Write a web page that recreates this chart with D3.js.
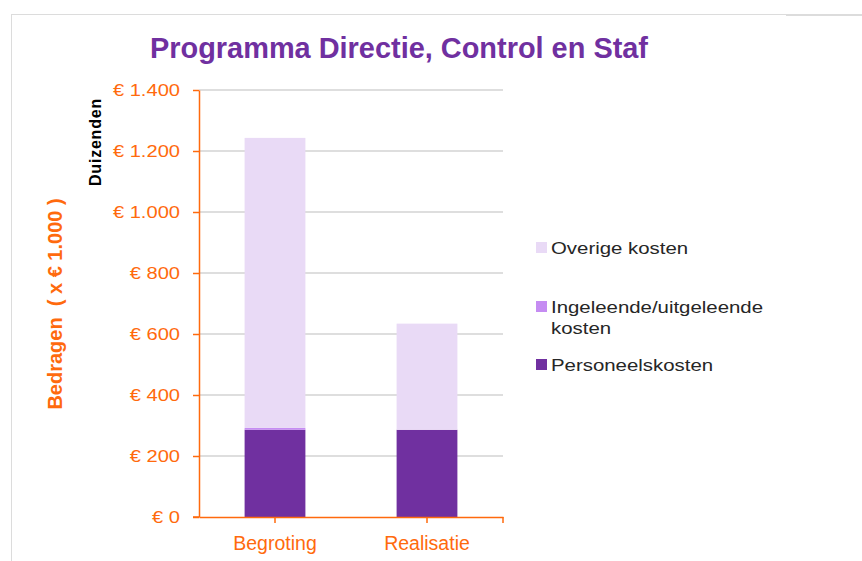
<!DOCTYPE html>
<html>
<head>
<meta charset="utf-8">
<script src="https://cdn.jsdelivr.net/npm/d3@7"></script>
<style>
  body { margin: 0; background: #fff; }
  text { font-family: "Liberation Sans", Arial, sans-serif; }
</style>
</head>
<body>
<svg id="chart" width="862" height="561"></svg>
<script>
const categories = ["Begroting", "Realisatie"];
const personeelskosten = [286, 286];
const ingeleendeKosten = [6, 0];
const overigeKosten = [951, 348];
const seriesNames = ["Personeelskosten", "Ingeleende/uitgeleende kosten", "Overige kosten"];
const yTicks = [0, 200, 400, 600, 800, 1000, 1200, 1400];

const colors = ["#7030A0", "#C58CF2", "#E9DAF6"];
const orange = "#FF6A0D";

const rows = categories.map((c, i) => ({
  cat: c,
  s0: personeelskosten[i],
  s1: ingeleendeKosten[i],
  s2: overigeKosten[i]
}));
const stacked = d3.stack().keys(["s0", "s1", "s2"])(rows);

const svg = d3.select("#chart");

// frame lines
svg.append("line").attr("x1", 11.5).attr("x2", 11.5).attr("y1", 14).attr("y2", 561)
  .attr("stroke", "#dcdcdc").attr("stroke-width", 1);
svg.append("line").attr("x1", 11).attr("x2", 786).attr("y1", 14.5).attr("y2", 14.5)
  .attr("stroke", "#dcdcdc").attr("stroke-width", 1);
svg.append("line").attr("x1", 786).attr("x2", 862).attr("y1", 15).attr("y2", 15)
  .attr("stroke", "#dcdcdc").attr("stroke-width", 2);

const x = d3.scaleBand()
  .domain(categories)
  .range([199, 503])
  .paddingInner(0.6)
  .paddingOuter(0.3);
const y = d3.scaleLinear()
  .domain([0, 1400])
  .range([517, 90]);

const nl = d3.formatLocale({ decimal: ",", thousands: ".", grouping: [3], currency: ["€ ", ""] });
const fmt = v => "€ " + nl.format(",")(v);

// gridlines
svg.append("g")
  .selectAll("line")
  .data(yTicks.filter(d => d > 0))
  .join("line")
    .attr("x1", 199).attr("x2", 503)
    .attr("y1", d => y(d)).attr("y2", d => y(d))
    .attr("stroke", "#d3d3d3").attr("stroke-width", 1.5);

// bars
svg.append("g")
  .selectAll("g")
  .data(stacked)
  .join("g")
    .attr("fill", (d, i) => colors[i])
  .selectAll("rect")
  .data(d => d)
  .join("rect")
    .attr("x", d => x(d.data.cat))
    .attr("width", x.bandwidth())
    .attr("y", d => y(d[1]))
    .attr("height", d => y(d[0]) - y(d[1]));

// y axis (labels are drawn a bit wide, like the original)
const sx = 1.22;
const yAxis = svg.append("g")
  .attr("transform", "translate(199,0)")
  .call(d3.axisLeft(y).tickValues(yTicks).tickFormat(fmt).tickSize(6).tickSizeOuter(0).tickPadding(13));
yAxis.select(".domain").attr("stroke", orange).attr("stroke-width", 1.5);
yAxis.selectAll(".tick line").attr("stroke", orange).attr("stroke-width", 1.5);
yAxis.selectAll(".tick text")
  .attr("fill", orange)
  .attr("x", -19 / sx)
  .attr("transform", `scale(${sx},1)`)
  .style("font-size", "16.5px");

// x axis
const xAxis = svg.append("g")
  .attr("transform", "translate(0,517)")
  .call(d3.axisBottom(x).tickSize(6).tickSizeOuter(0).tickPadding(13));
xAxis.select(".domain").attr("stroke", orange).attr("stroke-width", 1.5);
xAxis.selectAll(".tick line").attr("stroke", orange).attr("stroke-width", 1.5);
xAxis.selectAll(".tick text")
  .attr("fill", orange)
  .style("font-size", "19.5px");
xAxis.append("line")
  .attr("x1", x.range()[1]).attr("x2", x.range()[1])
  .attr("y1", 0).attr("y2", 6)
  .attr("stroke", orange).attr("stroke-width", 1.5);
xAxis.append("line")
  .attr("x1", 193).attr("x2", 199)
  .attr("y1", 0).attr("y2", 0)
  .attr("stroke", orange).attr("stroke-width", 1.5);

// title
svg.append("text")
  .attr("x", 150).attr("y", 58)
  .attr("textLength", 498).attr("lengthAdjust", "spacingAndGlyphs")
  .attr("fill", "#7030A0")
  .style("font-size", "29px").style("font-weight", "bold")
  .text("Programma Directie, Control en Staf");

// y axis title
svg.append("text")
  .attr("transform", "translate(61.5,304) rotate(-90)")
  .attr("text-anchor", "middle")
  .attr("fill", orange)
  .style("white-space", "pre")
  .style("font-size", "20px").style("font-weight", "bold")
  .text("Bedragen  ( x € 1.000 )");

svg.append("text")
  .attr("transform", "translate(101,142) rotate(-90)")
  .attr("text-anchor", "middle")
  .attr("fill", "#000")
  .style("font-size", "16px").style("font-weight", "bold")
  .style("letter-spacing", "0.8px")
  .text("Duizenden");

// legend
const lsx = 1.2;
const legendItems = [
  { name: seriesNames[2], color: colors[2], y: 242, lines: ["Overige kosten"] },
  { name: seriesNames[1], color: colors[1], y: 301, lines: ["Ingeleende/uitgeleende", "kosten"] },
  { name: seriesNames[0], color: colors[0], y: 359, lines: ["Personeelskosten"] }
];
const lg = svg.append("g")
  .selectAll("g")
  .data(legendItems)
  .join("g")
    .attr("transform", d => `translate(536,${d.y})`);
lg.append("rect").attr("width", 11).attr("height", 11).attr("fill", d => d.color);
lg.append("text")
  .attr("fill", "#262626")
  .attr("transform", `scale(${lsx},1)`)
  .style("font-size", "17px")
  .selectAll("tspan")
  .data(d => d.lines)
  .join("tspan")
    .attr("x", 15 / lsx)
    .attr("y", (d, i) => 11.5 + i * 22)
    .text(d => d);
</script>
</body>
</html>
